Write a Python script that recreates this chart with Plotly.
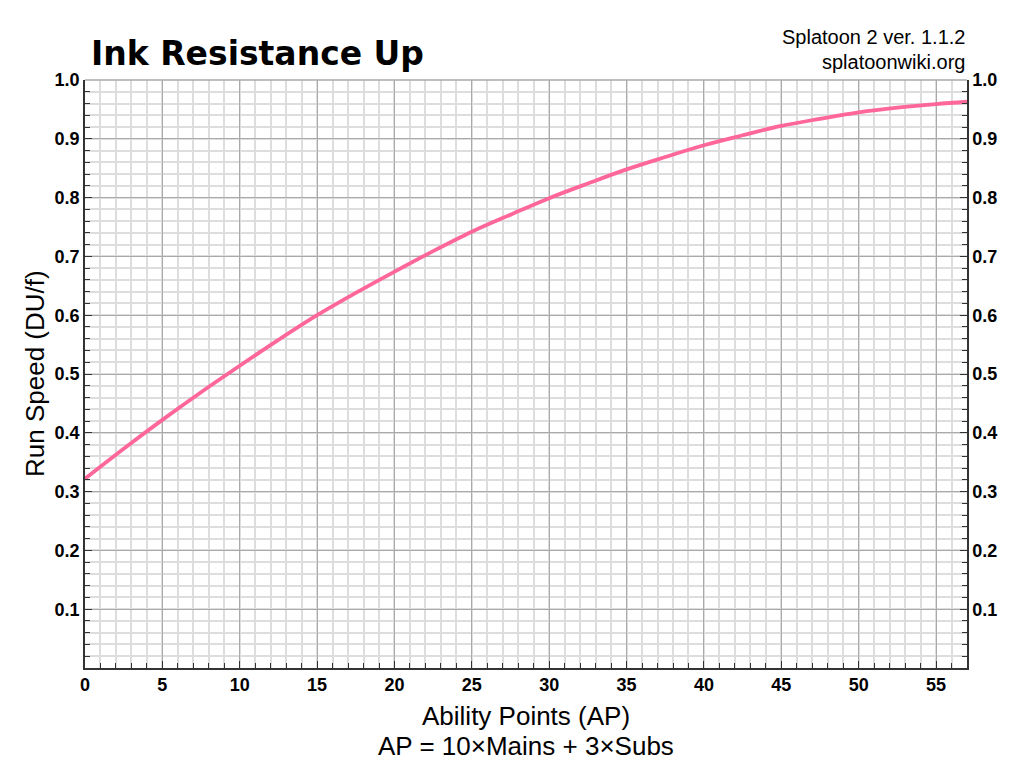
import plotly.graph_objects as go

ap = [0, 2.5, 5, 7.5, 10, 12.5, 15, 17.5, 20, 22.5, 25, 27.5, 30, 32.5, 35, 37.5, 40, 42.5, 45, 47.5, 50, 52.5, 55, 57]
speed = [0.322, 0.373, 0.422, 0.469, 0.514, 0.558, 0.600, 0.638, 0.674, 0.709, 0.742, 0.771, 0.799, 0.824, 0.848, 0.869, 0.889, 0.906, 0.922, 0.934, 0.945, 0.953, 0.959, 0.963]

x_ticks = list(range(0, 56, 5))
y_ticks = [0.1, 0.2, 0.3, 0.4, 0.5, 0.6, 0.7, 0.8, 0.9, 1.0]
y_labels = ["0.1", "0.2", "0.3", "0.4", "0.5", "0.6", "0.7", "0.8", "0.9", "1.0"]

fig = go.Figure()
fig.add_trace(go.Scatter(x=ap, y=speed, mode="lines", line=dict(color="#ff6699", width=3.8, shape="spline"),
                         showlegend=False, hoverinfo="skip"))
fig.add_trace(go.Scatter(x=ap, y=speed, mode="lines", line=dict(color="rgba(0,0,0,0)", width=0),
                         yaxis="y2", showlegend=False, hoverinfo="skip"))

tickfont = dict(family="Liberation Sans, Arial, sans-serif", size=18, color="#000")
sans = "Liberation Sans, Arial, sans-serif"

fig.update_layout(
    width=1024, height=778,
    margin=dict(l=77, r=65, t=72, b=118),
    paper_bgcolor="white", plot_bgcolor="white",
    xaxis=dict(range=[0, 57], tickvals=x_ticks, ticktext=[f"<b>{v}</b>" for v in x_ticks],
               tickfont=tickfont, showgrid=True, gridcolor="#aaaaaa", gridwidth=1,
               ticks="inside", ticklen=7, tickcolor="#333", tickwidth=1,
               minor=dict(dtick=1, showgrid=True, gridcolor="#dddddd", gridwidth=1.5, ticks="inside", ticklen=5, tickcolor="#333"),
               showline=True, linecolor="#333", linewidth=1.5, mirror=False, zeroline=False),
    yaxis=dict(range=[0, 1.0], tickvals=y_ticks, ticktext=[f"<b>{t}</b>" for t in y_labels],
               tickfont=tickfont, showgrid=True, gridcolor="#aaaaaa", gridwidth=1,
               ticks="inside", ticklen=7, tickcolor="#333",
               minor=dict(dtick=0.02, tick0=0, showgrid=True, gridcolor="#dddddd", gridwidth=1.5, ticks="inside", ticklen=5, tickcolor="#333"),
               showline=True, linecolor="#333", linewidth=1.5, zeroline=False),
    yaxis2=dict(range=[0, 1.0], overlaying="y", side="right", tickvals=y_ticks, ticktext=[f"<b>{t}</b>" for t in y_labels],
                tickfont=tickfont, showgrid=False, ticks="inside", ticklen=7, tickcolor="#333",
                minor=dict(dtick=0.02, tick0=0, ticks="inside", ticklen=5, tickcolor="#333", showgrid=False),
                showline=True, linecolor="#333", linewidth=1.5, zeroline=False),
    shapes=[dict(type="line", xref="paper", yref="paper", x0=0, x1=1, y0=1, y1=1,
                 line=dict(color="#aaaaaa", width=1.5))],
    annotations=[
        dict(text="<b>Ink Resistance Up</b>", xref="paper", yref="paper", x=0.0, y=1.0, xanchor="left", yanchor="bottom",
             yshift=5, xshift=4, showarrow=False,
             font=dict(family="DejaVu Sans, sans-serif", size=33, color="#000")),
        dict(text="Splatoon 2 ver. 1.1.2", xref="paper", yref="paper", x=1.0, y=1.0, xanchor="right", yanchor="bottom",
             yshift=30, showarrow=False, font=dict(family=sans, size=20, color="#000")),
        dict(text="splatoonwiki.org", xref="paper", yref="paper", x=1.0, y=1.0, xanchor="right", yanchor="bottom",
             yshift=5, showarrow=False, font=dict(family=sans, size=20, color="#000")),
        dict(text="Ability Points (AP)", xref="paper", yref="paper", x=0.5, y=0, xanchor="center", yanchor="top",
             yshift=-31, showarrow=False, font=dict(family=sans, size=26, color="#000")),
        dict(text="AP = 10×Mains + 3×Subs", xref="paper", yref="paper", x=0.5, y=0, xanchor="center", yanchor="top",
             yshift=-61, showarrow=False, font=dict(family=sans, size=26, color="#000")),
        dict(text="Run Speed (DU/f)", xref="paper", yref="paper", x=0, y=0.5, xanchor="center", yanchor="middle",
             xshift=-50, textangle=-90, showarrow=False, font=dict(family=sans, size=26, color="#000")),
    ],
)

fig.write_html("out.html")
